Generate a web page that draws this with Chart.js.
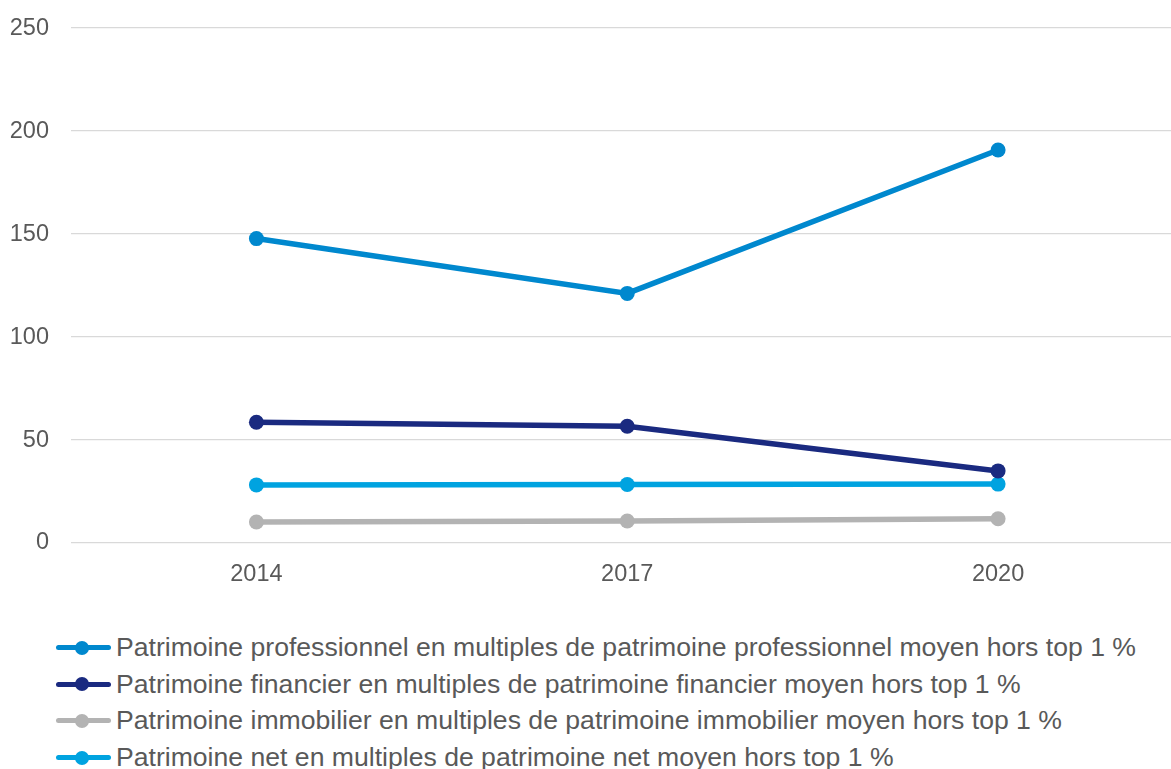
<!DOCTYPE html>
<html lang="fr">
<head>
<meta charset="utf-8">
<script src="https://cdn.jsdelivr.net/npm/chart.js@4.4.1/dist/chart.umd.min.js"></script>
<style>
  html, body { margin: 0; padding: 0; background: #fff; overflow: hidden; }
  body { width: 1171px; height: 769px; position: relative; font-family: "Liberation Sans", Arial, sans-serif; }
  #wrap { position: absolute; left: 0; top: -8px; width: 1191px; height: 608px; }
  #legend { position: absolute; left: 0; top: 629px; margin: 0; padding: 0; list-style: none; }
  #legend li { position: relative; height: 36.7px; line-height: 36.7px; padding-left: 116px; font-size: 26.6px; color: #595959; white-space: nowrap; }
  #legend .sw { position: absolute; left: 56px; top: 16px; width: 55px; height: 5px; border-radius: 3px; }
  #legend .dot { position: absolute; left: 19px; top: -4.5px; width: 14px; height: 14px; border-radius: 50%; }
</style>
</head>
<body>
<div id="wrap"><canvas id="c"></canvas></div>
<ul id="legend"></ul>
<script>
// Years on the horizontal axis
const years = ['2014', '2017', '2020'];

// Series names (legend text)
const seriesNames = [
  'Patrimoine professionnel en multiples de patrimoine professionnel moyen hors top 1 %',
  'Patrimoine financier en multiples de patrimoine financier moyen hors top 1 %',
  'Patrimoine immobilier en multiples de patrimoine immobilier moyen hors top 1 %',
  'Patrimoine net en multiples de patrimoine net moyen hors top 1 %'
];

// Values per series
const professionnel = [147.8, 121.2, 190.8];
const financier = [58.6, 56.7, 35.0];
const immobilier = [10.2, 10.7, 11.8];
const net = [28.2, 28.4, 28.6];

// Y axis ticks
const yTicks = [0, 50, 100, 150, 200, 250];

const seriesColors = ['#0088CE', '#1A2A80', '#B3B3B3', '#00A3E0'];
const seriesValues = [professionnel, financier, immobilier, net];

const datasets = seriesValues.map((vals, i) => ({
  label: seriesNames[i],
  data: vals,
  borderColor: seriesColors[i],
  backgroundColor: seriesColors[i],
  borderWidth: 5.5,
  pointRadius: 7.5,
  pointHoverRadius: 7.5,
  pointBorderWidth: 0,
  tension: 0
}));

new Chart(document.getElementById('c'), {
  type: 'line',
  data: { labels: years, datasets },
  options: {
    responsive: true,
    maintainAspectRatio: false,
    animation: false,
    layout: { padding: { top: 19, right: 0, bottom: 0, left: 0 } },
    plugins: { legend: { display: false }, tooltip: { enabled: false } },
    scales: {
      x: {
        offset: true,
        grid: { display: false, drawTicks: false },
        border: { display: false },
        ticks: { color: '#595959', font: { family: '"Liberation Sans", Arial, sans-serif', size: 23.5 }, padding: 17 },
        afterFit: (s) => { s.height = 57; }
      },
      y: {
        min: 0,
        max: 250,
        afterBuildTicks: (s) => { s.ticks = yTicks.map(v => ({ value: v })); },
        grid: { color: '#D9D9D9', lineWidth: 1.3, drawTicks: false },
        border: { display: false },
        ticks: { color: '#595959', font: { family: '"Liberation Sans", Arial, sans-serif', size: 23.5 }, padding: 22 },
        afterFit: (s) => { s.width = 71; }
      }
    }
  }
});

// HTML legend built from the same series arrays
const legend = document.getElementById('legend');
seriesNames.forEach((name, i) => {
  const li = document.createElement('li');
  const sw = document.createElement('span');
  sw.className = 'sw';
  sw.style.background = seriesColors[i];
  const dot = document.createElement('span');
  dot.className = 'dot';
  dot.style.background = seriesColors[i];
  sw.appendChild(dot);
  li.appendChild(sw);
  li.appendChild(document.createTextNode(name));
  legend.appendChild(li);
});
</script>
</body>
</html>
